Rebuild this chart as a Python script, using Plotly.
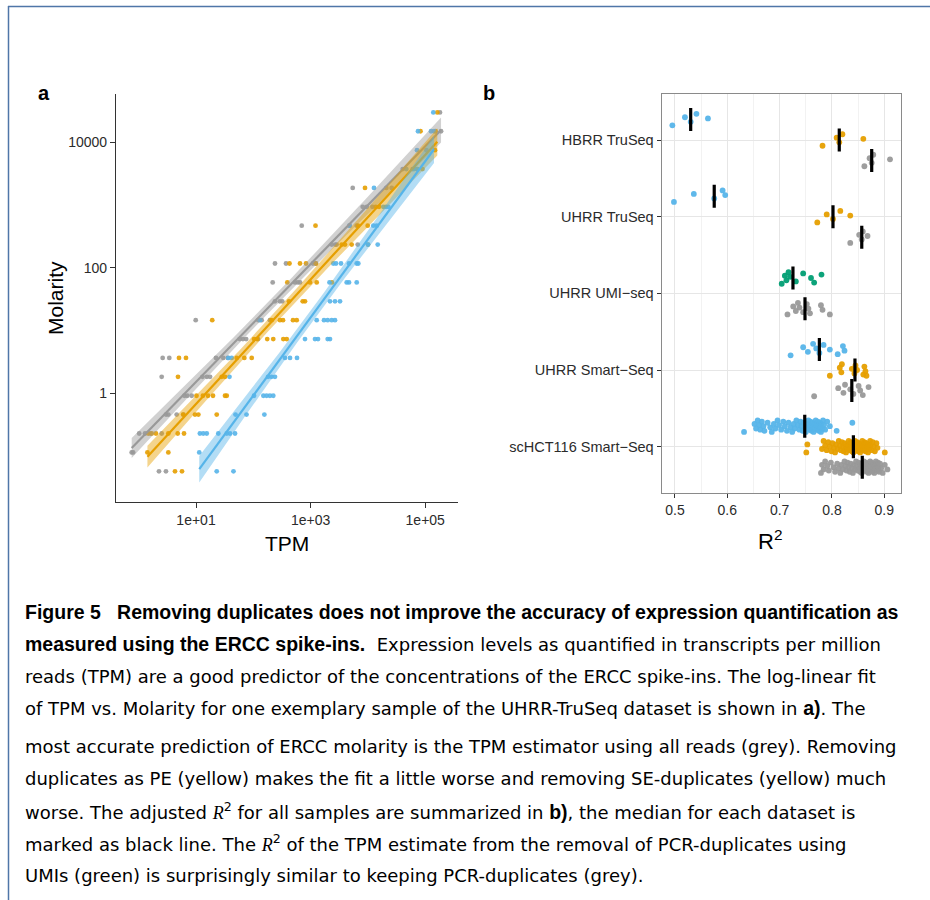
import numpy as np
import plotly.graph_objects as go

W, H = 930, 900

# ---------------- Panel a data (TPM vs Molarity, one UHRR-TruSeq sample) ----------------
# (grey points lying under the orange points / inside the grey ribbon are included)
grey_tpm = [181000, 189000, 105000, 40500, 60500, 5430, 21000, 26000, 8110, 9530, 12000,
            700, 4800, 6380, 2335, 2700, 2850, 6640, 239, 372, 1100, 1242, 218, 535, 600, 653,
            239, 290, 320, 9.88, 122, 140, 195, 58, 66, 75, 121, 2.62, 3.42, 22.3, 30, 36,
            2.52, 13, 15.5, 17.6, 6.3, 7.05, 8.41, 3.0, 3.29, 4.60, 6.00, 1.02, 1.29, 1.6, 2.52,
            0.755, 0.8, 2.26, 2.99]
grey_molarity = [30000, 15000, 7500, 3750, 3750, 1875, 1875, 1875, 937.5, 937.5, 937.5,
                 468.8, 468.8, 468.8, 234.4, 234.4, 234.4, 234.4, 117.2, 117.2, 117.2, 117.2,
                 58.59, 58.59, 58.59, 58.59, 29.3, 29.3, 29.3, 14.65, 14.65, 14.65, 14.65,
                 7.324, 7.324, 7.324, 7.324, 3.662, 3.662, 3.662, 3.662, 3.662,
                 1.831, 1.831, 1.831, 1.831, 0.9155, 0.9155, 0.9155, 0.4578, 0.4578, 0.4578, 0.4578,
                 0.2289, 0.2289, 0.2289, 0.2289, 0.1144, 0.1144, 0.0572, 0.0572]

orange_tpm = [162600, 82800, 152400, 148000, 72800, 89700, 8900, 13680, 15630, 1218, 6720, 9910,
              3490, 3980, 5210, 10040, 428, 653, 832, 1227, 392, 977, 1277, 2362, 420, 728, 798,
              19.2, 209, 292, 330, 493, 572, 103, 116, 175, 223, 334, 383, 5.05, 6.69, 51.3, 69.7,
              93.8, 4.85, 28.1, 32.1, 10.2, 13.2, 16.2, 19.8, 32.1, 34.4, 6.0, 9.6, 11.0, 23.0,
              1.47, 1.69, 2.0, 3.29, 4.80, 6.18, 1.42, 3.29, 4.30, 5.70]
orange_molarity = [30000, 15000, 15000, 7500, 3750, 3750, 1875, 937.5, 937.5, 468.8, 468.8, 468.8,
                   234.4, 234.4, 234.4, 234.4, 117.2, 117.2, 117.2, 117.2, 58.59, 58.59, 58.59, 58.59,
                   29.3, 29.3, 29.3, 14.65, 14.65, 14.65, 14.65, 14.65, 14.65,
                   7.324, 7.324, 7.324, 7.324, 7.324, 7.324, 3.662, 3.662, 3.662, 3.662, 3.662,
                   1.831, 1.831, 1.831, 0.9155, 0.9155, 0.9155, 0.9155, 0.9155, 0.9155,
                   0.4578, 0.4578, 0.4578, 0.4578, 0.2289, 0.2289, 0.2289, 0.2289, 0.2289, 0.2289,
                   0.1144, 0.1144, 0.0572, 0.0572]

blue_tpm = [138400, 74850, 126200, 142500, 71900, 46800, 63800, 71100, 12770, 18580, 20700, 22700,
            4775, 12420, 14250, 10040, 14830, 2490, 2775, 3395, 4680, 6380, 6800, 2138, 4266, 4680,
            6380, 2180, 2667, 3260, 131, 1277, 1714, 1987, 2335, 2667, 798, 1194, 1346, 1987, 2180,
            36.6, 42.0, 357, 437, 579, 38.4, 181, 208, 239, 103, 150, 171, 195, 223, 48.9, 76.1,
            156, 11.7, 13.4, 15.4, 24.5, 34.4, 39.2, 48.0, 11.4, 23.0, 45.1]
blue_molarity = [30000, 15000, 15000, 15000, 7500, 3750, 3750, 3750, 1875, 937.5, 937.5, 937.5,
                 468.8, 468.8, 468.8, 234.4, 234.4, 117.2, 117.2, 117.2, 117.2, 117.2, 117.2,
                 58.59, 58.59, 58.59, 58.59, 29.3, 29.3, 29.3, 14.65, 14.65, 14.65, 14.65, 14.65, 14.65,
                 7.324, 7.324, 7.324, 7.324, 7.324, 3.662, 3.662, 3.662, 3.662, 3.662,
                 1.831, 1.831, 1.831, 1.831, 0.9155, 0.9155, 0.9155, 0.9155, 0.9155,
                 0.4578, 0.4578, 0.4578, 0.2289, 0.2289, 0.2289, 0.2289, 0.2289, 0.2289, 0.2289,
                 0.1144, 0.0572, 0.0572]

a_xticks = [10, 1000, 100000]
a_xticklabels = ["1e+01", "1e+03", "1e+05"]
a_yticks = [1, 100, 10000]
a_yticklabels = ["1", "100", "10000"]

# ---------------- Panel b data (adjusted R^2 per sample) ----------------
datasets = ["HBRR TruSeq", "UHRR TruSeq", "UHRR UMI\u2212seq", "UHRR Smart\u2212Seq", "scHCT116 Smart\u2212Seq"]

hbrr_blue = [0.495, 0.519, 0.530, 0.541, 0.563]
hbrr_orange = [0.782, 0.809, 0.814, 0.820, 0.860]
hbrr_grey = [0.862, 0.872, 0.876, 0.879, 0.911]
uhrr_blue = [0.498, 0.536, 0.575, 0.591, 0.596]
uhrr_orange = [0.772, 0.790, 0.802, 0.816, 0.835]
uhrr_grey = [0.835, 0.852, 0.857, 0.859, 0.868]
umi_green = [0.704, 0.710, 0.713, 0.717, 0.720, 0.731, 0.745, 0.760, 0.766, 0.780]
umi_grey = [0.715, 0.726, 0.731, 0.735, 0.738, 0.745, 0.752, 0.755, 0.758, 0.779, 0.782, 0.796]
smart_blue = [0.721, 0.745, 0.754, 0.764, 0.770, 0.776, 0.784, 0.796, 0.811, 0.821, 0.824]
smart_orange = [0.796, 0.815, 0.818, 0.819, 0.838, 0.843, 0.845, 0.848, 0.860, 0.862, 0.864, 0.866]
smart_grey = [0.766, 0.812, 0.822, 0.825, 0.835, 0.841, 0.851, 0.854, 0.859, 0.870]
sc_blue = [0.632, 0.652, 0.655, 0.658, 0.661, 0.663, 0.666, 0.669, 0.671, 0.677, 0.682, 0.685,
           0.689, 0.692, 0.696, 0.699, 0.703, 0.707, 0.710, 0.714, 0.717, 0.721, 0.724, 0.727,
           0.729, 0.732, 0.735, 0.738, 0.740, 0.742, 0.744, 0.746, 0.748, 0.750, 0.752, 0.753,
           0.755, 0.756, 0.757, 0.759, 0.760, 0.761, 0.763, 0.764, 0.765, 0.767, 0.768, 0.769,
           0.770, 0.772, 0.773, 0.774, 0.775, 0.777, 0.778, 0.779, 0.780, 0.782, 0.783, 0.785,
           0.787, 0.791, 0.796, 0.809, 0.839]
sc_orange = [0.751, 0.753, 0.781, 0.784, 0.787, 0.790, 0.793, 0.796, 0.799, 0.801, 0.804, 0.806,
             0.808, 0.811, 0.813, 0.815, 0.817, 0.819, 0.821, 0.822, 0.824, 0.826, 0.827, 0.829,
             0.830, 0.832, 0.833, 0.834, 0.836, 0.837, 0.838, 0.839, 0.840, 0.841,
             0.842, 0.843, 0.844, 0.845, 0.846, 0.848, 0.849, 0.850, 0.851, 0.853, 0.854, 0.855,
             0.856, 0.858, 0.859, 0.860, 0.862, 0.863, 0.864, 0.866, 0.867, 0.869, 0.870, 0.871,
             0.873, 0.874, 0.876, 0.878, 0.880, 0.882, 0.885, 0.887, 0.901]
sc_grey = [0.779, 0.781, 0.784, 0.787, 0.791, 0.794, 0.798, 0.803, 0.806, 0.810, 0.813, 0.816,
           0.818, 0.821, 0.824, 0.826, 0.828, 0.830, 0.832, 0.834, 0.836, 0.838, 0.840, 0.842,
           0.844, 0.846, 0.848, 0.849, 0.851, 0.853, 0.854, 0.855, 0.856, 0.857, 0.858,
           0.860, 0.861, 0.862, 0.863, 0.865, 0.866, 0.867, 0.868, 0.869, 0.870, 0.871, 0.872,
           0.873, 0.874, 0.875, 0.876, 0.877, 0.878, 0.879, 0.880, 0.881, 0.882, 0.883, 0.884,
           0.886, 0.887, 0.888, 0.889, 0.890, 0.892, 0.894, 0.897, 0.901, 0.906]
b_xticks = [0.5, 0.6, 0.7, 0.8, 0.9]

GREY, ORANGE, BLUE, GREEN = "#999999", "#E69F00", "#56B4E9", "#009E73"
FONT = "Liberation Sans, Arial, Helvetica, sans-serif"


def px_x(p):
    return p / W


def px_y(p):
    return 1 - p / H


def rgba(hexc, a):
    h = hexc.lstrip("#")
    return "rgba(%d,%d,%d,%.2f)" % (int(h[0:2], 16), int(h[2:4], 16), int(h[4:6], 16), a)


def loglog_fit(tpm, mol):
    lx = np.log10(np.asarray(tpm, float))
    ly = np.log10(np.asarray(mol, float))
    n = len(lx)
    b, a = np.polyfit(lx, ly, 1)
    resid = ly - (a + b * lx)
    s = np.sqrt(np.sum(resid ** 2) / (n - 2))
    xbar = lx.mean()
    sxx = np.sum((lx - xbar) ** 2)
    grid = np.linspace(lx.min(), lx.max(), 80)
    fitv = a + b * grid
    se = s * np.sqrt(1.0 / n + (grid - xbar) ** 2 / sxx)
    t = 1.96 + 2.5 / (n - 2)
    return 10 ** grid, 10 ** fitv, 10 ** (fitv - t * se), 10 ** (fitv + t * se)


fig = go.Figure()

series_a = [(grey_tpm, grey_molarity, GREY), (orange_tpm, orange_molarity, ORANGE),
            (blue_tpm, blue_molarity, BLUE)]
for tpm, mol, col in series_a:
    fig.add_trace(go.Scatter(x=tpm, y=mol, mode="markers", xaxis="x", yaxis="y",
                             marker=dict(color=col, size=4.8, opacity=0.9, line=dict(width=0)),
                             hoverinfo="skip", showlegend=False))
for tpm, mol, col in series_a:
    gx, fy, lo, hi = loglog_fit(tpm, mol)
    fig.add_trace(go.Scatter(x=list(gx) + list(gx[::-1]), y=list(hi) + list(lo[::-1]),
                             mode="lines", fill="toself", fillcolor=rgba(col, 0.45),
                             line=dict(width=0), xaxis="x", yaxis="y",
                             hoverinfo="skip", showlegend=False))
    fig.add_trace(go.Scatter(x=gx, y=fy, mode="lines", line=dict(color=col, width=2.2),
                             xaxis="x", yaxis="y", hoverinfo="skip", showlegend=False))

# ---------------- Panel b ----------------
groups_b = [
    (4, [(hbrr_blue, BLUE, 0.267), (hbrr_orange, ORANGE, 0.0), (hbrr_grey, GREY, -0.267)]),
    (3, [(uhrr_blue, BLUE, 0.267), (uhrr_orange, ORANGE, 0.0), (uhrr_grey, GREY, -0.267)]),
    (2, [(umi_green, GREEN, 0.2), (umi_grey, GREY, -0.2)]),
    (1, [(smart_blue, BLUE, 0.267), (smart_orange, ORANGE, 0.0), (smart_grey, GREY, -0.267)]),
    (0, [(sc_blue, BLUE, 0.267), (sc_orange, ORANGE, 0.0), (sc_grey, GREY, -0.267)]),
]
med_x, med_y = [], []
for cpos, subs in groups_b:
    for vals, col, off in subs:
        n = len(vals)
        jit = [(((i * 7) % 11) / 10.0 - 0.5) * 0.15 for i in range(n)]
        ys = [cpos + off + j for j in jit]
        fig.add_trace(go.Scatter(x=vals, y=ys, mode="markers", xaxis="x2", yaxis="y2",
                                 marker=dict(color=col, size=5.8, opacity=0.95, line=dict(width=0)),
                                 hoverinfo="skip", showlegend=False))
        m = float(np.median(vals))
        med_x += [m, m, None]
        med_y += [cpos + off - 0.15, cpos + off + 0.15, None]
fig.add_trace(go.Scatter(x=med_x, y=med_y, mode="lines", xaxis="x2", yaxis="y2",
                         line=dict(color="black", width=3.2), hoverinfo="skip", showlegend=False))

tickfont = dict(family=FONT, size=14, color="#2b2b2b")
ytickfont_b = dict(family=FONT, size=14.5, color="#2b2b2b")

fig.update_layout(
    width=W, height=H, margin=dict(l=0, r=0, t=0, b=0),
    paper_bgcolor="white", plot_bgcolor="white", showlegend=False,
    xaxis=dict(type="log", domain=[px_x(116), px_x(457.7)], range=[-0.396, 5.567], anchor="y",
               tickvals=a_xticks, ticktext=a_xticklabels, showgrid=False, zeroline=False,
               showline=True, linecolor="#333333", linewidth=1.2, ticks="outside", ticklen=5,
               tickcolor="#333333", tickfont=tickfont),
    yaxis=dict(type="log", domain=[px_y(501.7), px_y(94)], range=[-1.727, 4.77], anchor="x",
               tickvals=a_yticks, ticktext=a_yticklabels, showgrid=False, zeroline=False,
               showline=True, linecolor="#333333", linewidth=1.2, ticks="outside", ticklen=5,
               tickcolor="#333333", tickfont=tickfont),
    xaxis2=dict(domain=[px_x(661.7), px_x(901)], range=[0.4746, 0.932], anchor="y2",
                tickvals=b_xticks, ticktext=["%.1f" % v for v in b_xticks],
                showgrid=True, gridcolor="#e6e6e6", gridwidth=1, zeroline=False,
                minor=dict(tickvals=[0.55, 0.65, 0.75, 0.85], showgrid=True, gridcolor="#f2f2f2", gridwidth=1),
                showline=True, mirror=True, linecolor="#8a8a8a", linewidth=1.2,
                ticks="outside", ticklen=4, tickcolor="#333333", tickfont=tickfont),
    yaxis2=dict(domain=[px_y(492.7), px_y(94)], range=[-0.6, 4.6], anchor="x2",
                tickvals=[4, 3, 2, 1, 0], ticktext=datasets,
                showgrid=True, gridcolor="#e6e6e6", gridwidth=1, zeroline=False,
                showline=True, mirror=True, linecolor="#8a8a8a", linewidth=1.2,
                ticks="outside", ticklen=4, tickcolor="#333333", tickfont=ytickfont_b),
)


def label(text, x, y, size, angle=0):
    return dict(text=text, x=px_x(x), y=px_y(y), xref="paper", yref="paper",
                xanchor="center", yanchor="middle", textangle=angle, showarrow=False,
                font=dict(family=FONT, size=size, color="black"))


ann = [
    label("<b>a</b>", 44, 93, 20),
    label("<b>b</b>", 489, 93, 20),
    label("Molarity", 55, 298, 21, angle=-90),
    label("TPM", 287, 543, 21),
    label("R<sup>2</sup>", 770, 540, 22),
]


def B(t):
    return '<b><span style="font-family:Liberation Sans, Arial, sans-serif;font-size:19.5px">' + t + '</span></b>'


R2 = '<i><span style="font-family:Liberation Serif, DejaVu Serif, serif">R</span></i><sup>2</sup>'

caption = [
    B("Figure 5   Removing duplicates does not improve the accuracy of expression quantification as"),
    B("measured using the ERCC spike-ins.") + "  Expression levels as quantified in transcripts per million",
    "reads (TPM) are a good predictor of the concentrations of the ERCC spike-ins. The log-linear fit",
    "of TPM vs. Molarity for one exemplary sample of the UHRR-TruSeq dataset is shown in " + B("a)") + ". The",
    "most accurate prediction of ERCC molarity is the TPM estimator using all reads (grey). Removing",
    "duplicates as PE (yellow) makes the fit a little worse and removing SE-duplicates (yellow) much",
    "worse. The adjusted " + R2 + " for all samples are summarized in " + B("b)") + ", the median for each dataset is",
    "marked as black line. The " + R2 + " of the TPM estimate from the removal of PCR-duplicates using",
    "UMIs (green) is surprisingly similar to keeping PCR-duplicates (grey).",
]
cap_y = [611.7, 644.3, 676.7, 708.3, 746, 778.3, 811, 843.3, 875]
for txt, yy in zip(caption, cap_y):
    ann.append(dict(text=txt, x=px_x(23), y=px_y(yy), xref="paper", yref="paper", xanchor="left",
                    yanchor="middle", showarrow=False,
                    font=dict(family="DejaVu Sans, sans-serif", size=18, color="black")))

fig.update_layout(annotations=ann)

border = "#4f76a8"
fig.update_layout(shapes=[
    dict(type="line", xref="paper", yref="paper", x0=px_x(8), x1=1, y0=px_y(6.5), y1=px_y(6.5),
         line=dict(color=border, width=1.5)),
    dict(type="line", xref="paper", yref="paper", x0=px_x(8.5), x1=px_x(8.5), y0=px_y(6), y1=0,
         line=dict(color=border, width=1.5)),
])

fig.write_html("out.html")
